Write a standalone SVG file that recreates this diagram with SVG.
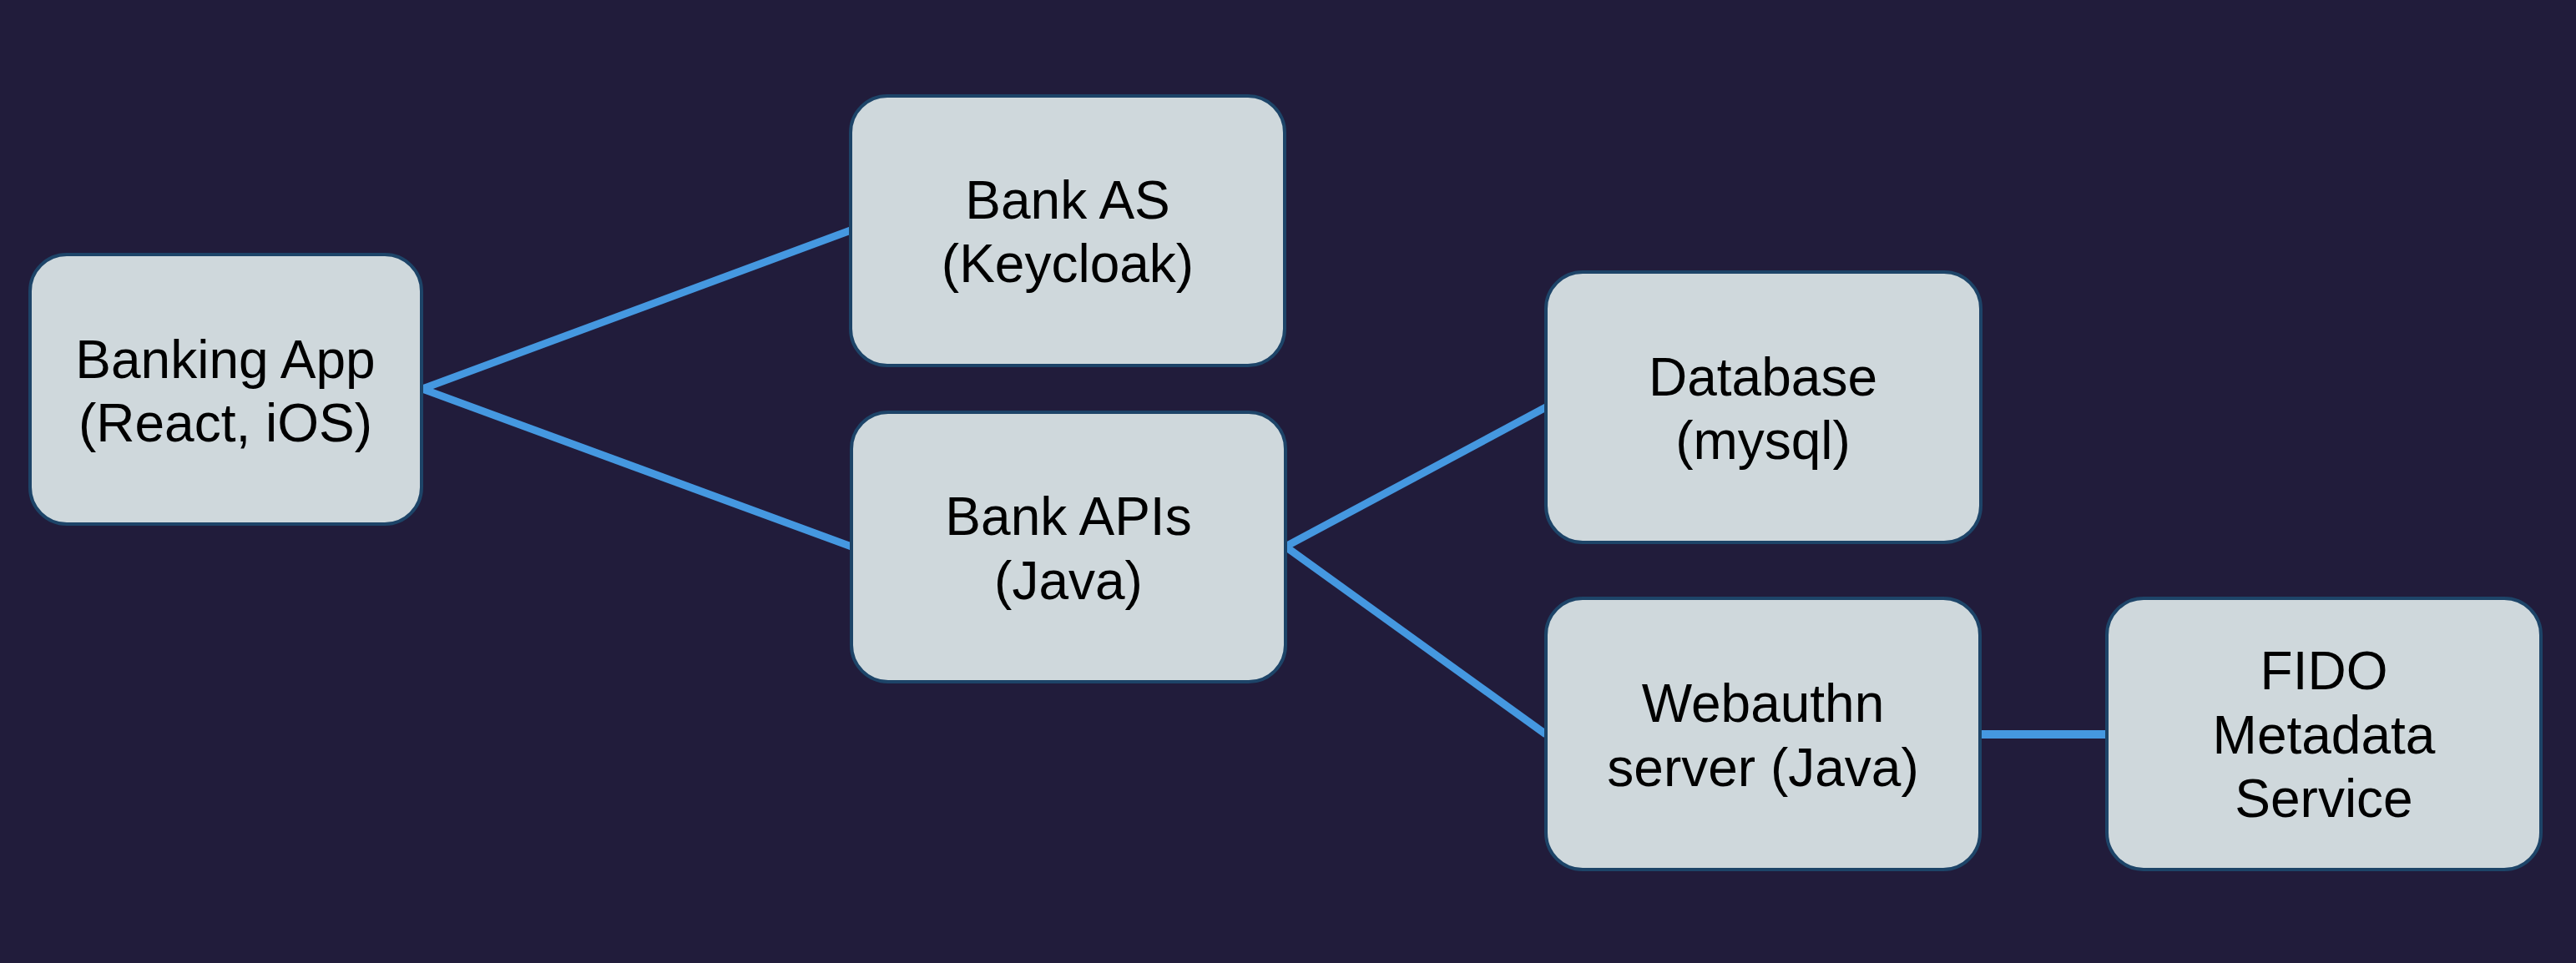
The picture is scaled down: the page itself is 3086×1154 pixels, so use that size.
<svg xmlns="http://www.w3.org/2000/svg" width="3086" height="1154" viewBox="0 0 3086 1154">
<style>
.bg{fill:#211c3b}
.box{fill:#cfd8dc;stroke:#1d4468;stroke-width:4}
.lbl{font-family:"Liberation Sans",Arial,sans-serif;font-size:64px;fill:#000;text-anchor:middle}
.edge{stroke:#4598e0;stroke-width:9;fill:none;stroke-linecap:butt}
</style>
<rect class="bg" x="0" y="0" width="3086" height="1154"/>
<g id="connectors">
<line class="edge" x1="506" y1="466" x2="1019" y2="276"/>
<line class="edge" x1="506" y1="466" x2="1020" y2="655"/>
<line class="edge" x1="1540" y1="655" x2="1852" y2="488"/>
<line class="edge" x1="1540" y1="655" x2="1852" y2="880"/>
<line class="edge" x1="2372" y1="880" x2="2524" y2="880" style="stroke-width:10"/>
</g>
<g id="banking-app">
<rect class="box" x="36" y="305" width="469" height="323" rx="44"/>
<text class="lbl" x="270" y="453">Banking App</text>
<text class="lbl" x="270" y="529">(React, iOS)</text>
</g>
<g id="bank-as">
<rect class="box" x="1019" y="115" width="520" height="323" rx="44"/>
<text class="lbl" x="1279" y="262">Bank AS</text>
<text class="lbl" x="1279" y="338">(Keycloak)</text>
</g>
<g id="bank-apis">
<rect class="box" x="1020" y="494" width="520" height="323" rx="44"/>
<text class="lbl" x="1280" y="641">Bank APIs</text>
<text class="lbl" x="1280" y="718">(Java)</text>
</g>
<g id="database">
<rect class="box" x="1852" y="326" width="521" height="324" rx="44"/>
<text class="lbl" x="2112" y="474">Database</text>
<text class="lbl" x="2112" y="550">(mysql)</text>
</g>
<g id="webauthn">
<rect class="box" x="1852" y="717" width="520" height="325" rx="44"/>
<text class="lbl" x="2112" y="865">Webauthn</text>
<text class="lbl" x="2112" y="942">server (Java)</text>
</g>
<g id="fido">
<rect class="box" x="2524" y="717" width="520" height="325" rx="44"/>
<text class="lbl" x="2784" y="826">FIDO</text>
<text class="lbl" x="2784" y="903">Metadata</text>
<text class="lbl" x="2784" y="979">Service</text>
</g>
</svg>
